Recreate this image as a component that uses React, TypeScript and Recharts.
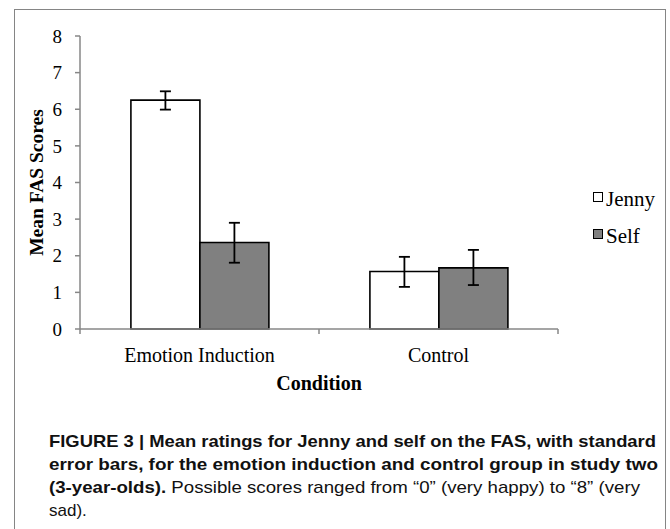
import React from 'react';
import { BarChart, Bar, XAxis, YAxis, ErrorBar, Legend } from 'recharts';

// values
const categories = ['Emotion Induction', 'Control'];
const jennyMeans = [6.25, 1.57];
const selfMeans = [2.36, 1.67];
const jennyErrors = [[0.26, 0.24], [0.42, 0.4]];
const selfErrors = [[0.55, 0.54], [0.47, 0.49]];
const yTicks = [0, 1, 2, 3, 4, 5, 6, 7, 8];

const data = categories.map((condition, i) => ({
  condition,
  jenny: jennyMeans[i],
  self: selfMeans[i],
  jennyErr: jennyErrors[i],
  selfErr: selfErrors[i],
}));

const serif = '"Liberation Serif", "Times New Roman", serif';
const sans = '"Liberation Sans", Arial, sans-serif';
const axisGray = '#878787';

const TICK_SIZE = 5;
const TICK_MARGIN = 14;

// category label plus the little ticks on the category boundaries (Excel style)
const CategoryTick = (props: any) => {
  const { x, y, payload, index, visibleTicksCount } = props;
  const half = payload.offset || 0;
  const axisY = y - TICK_SIZE - TICK_MARGIN;
  return (
    <g>
      <line x1={x - half} y1={axisY} x2={x - half} y2={axisY + TICK_SIZE} stroke={axisGray} strokeWidth={1.5} />
      {index === visibleTicksCount - 1 && (
        <line x1={x + half} y1={axisY} x2={x + half} y2={axisY + TICK_SIZE} stroke={axisGray} strokeWidth={1.5} />
      )}
      <text x={x} y={y} dy="0.71em" textAnchor="middle" fontFamily={serif} fontSize={20} fill="#000">
        {payload.value}
      </text>
    </g>
  );
};

const LegendBox = () => (
  <div style={{ fontFamily: serif, fontSize: 21, color: '#000' }}>
    {[
      { name: 'Jenny', fill: '#ffffff' },
      { name: 'Self', fill: '#808080' },
    ].map((item) => (
      <div key={item.name} style={{ display: 'flex', alignItems: 'flex-start', height: 22, marginBottom: 15, lineHeight: '22px' }}>
        <span
          style={{
            display: 'inline-block',
            width: 10,
            height: 10,
            marginTop: 4,
            marginRight: 3,
            boxSizing: 'border-box',
            border: '1.5px solid #000',
            background: item.fill,
          }}
        />
        <span>{item.name}</span>
      </div>
    ))}
  </div>
);

const App: React.FC = () => {
  return (
    <div style={{ position: 'absolute', left: 0, top: 0, width: 670, height: 529, background: '#fff', overflow: 'hidden' }}>
      <div
        style={{
          position: 'absolute',
          left: 14,
          top: 9,
          width: 652,
          height: 600,
          boxSizing: 'border-box',
          border: '1.5px solid #858585',
        }}
      />
      <div style={{ position: 'absolute', left: 0, top: 0 }}>
        <BarChart
          width={670}
          height={420}
          data={data}
          margin={{ top: 36, right: 112, left: 20, bottom: 26 }}
          barCategoryGap="21.3%"
          barGap={0}
        >
          <XAxis
            dataKey="condition"
            height={65}
            tickLine={false}
            tickSize={TICK_SIZE}
            tickMargin={TICK_MARGIN}
            axisLine={{ stroke: axisGray, strokeWidth: 1.5 }}
            tick={<CategoryTick />}
            interval={0}
            label={{ value: 'Condition', position: 'insideBottom', offset: 4, fontFamily: serif, fontSize: 20, fontWeight: 'bold', fill: '#000' }}
          />
          <YAxis
            width={60}
            domain={[0, 8]}
            ticks={yTicks}
            interval={0}
            tickSize={TICK_SIZE}
            tickMargin={13}
            axisLine={{ stroke: axisGray, strokeWidth: 1.5 }}
            tickLine={{ stroke: axisGray, strokeWidth: 1.5 }}
            tick={{ fontFamily: serif, fontSize: 19, fill: '#000' }}
            label={{
              value: 'Mean FAS Scores',
              angle: -90,
              position: 'insideLeft',
              offset: 16,
              fontFamily: serif,
              fontSize: 19.5,
              fontWeight: 'bold',
              fill: '#000',
              style: { textAnchor: 'middle' },
            }}
          />
          <Legend
            layout="vertical"
            align="center"
            verticalAlign="middle"
            content={<LegendBox />}
            wrapperStyle={{ left: 593, top: 188, width: 75 }}
          />
          <Bar dataKey="jenny" name="Jenny" fill="#ffffff" stroke="#000" strokeWidth={1.6} isAnimationActive={false}>
            <ErrorBar dataKey="jennyErr" width={5.5} stroke="#000" strokeWidth={1.8} />
          </Bar>
          <Bar dataKey="self" name="Self" fill="#808080" stroke="#000" strokeWidth={1.6} isAnimationActive={false}>
            <ErrorBar dataKey="selfErr" width={5.5} stroke="#000" strokeWidth={1.8} />
          </Bar>
        </BarChart>
      </div>
      <svg style={{ position: 'absolute', left: 0, top: 420 }} width={670} height={109}>
        <g fontFamily={sans} fontSize={17} fill="#111">
          <text x={49} y={27} fontWeight="bold" textLength={607} lengthAdjust="spacingAndGlyphs">
            FIGURE 3 | Mean ratings for Jenny and self on the FAS, with standard
          </text>
          <text x={49} y={50} fontWeight="bold" textLength={609} lengthAdjust="spacingAndGlyphs">
            error bars, for the emotion induction and control group in study two
          </text>
          <text x={49} y={73} textLength={591} lengthAdjust="spacingAndGlyphs">
            <tspan fontWeight="bold">(3-year-olds).</tspan>
            <tspan> Possible scores ranged from “0” (very happy) to “8” (very</tspan>
          </text>
          <text x={49} y={96}>
            sad).
          </text>
        </g>
      </svg>
    </div>
  );
};

export default App;
